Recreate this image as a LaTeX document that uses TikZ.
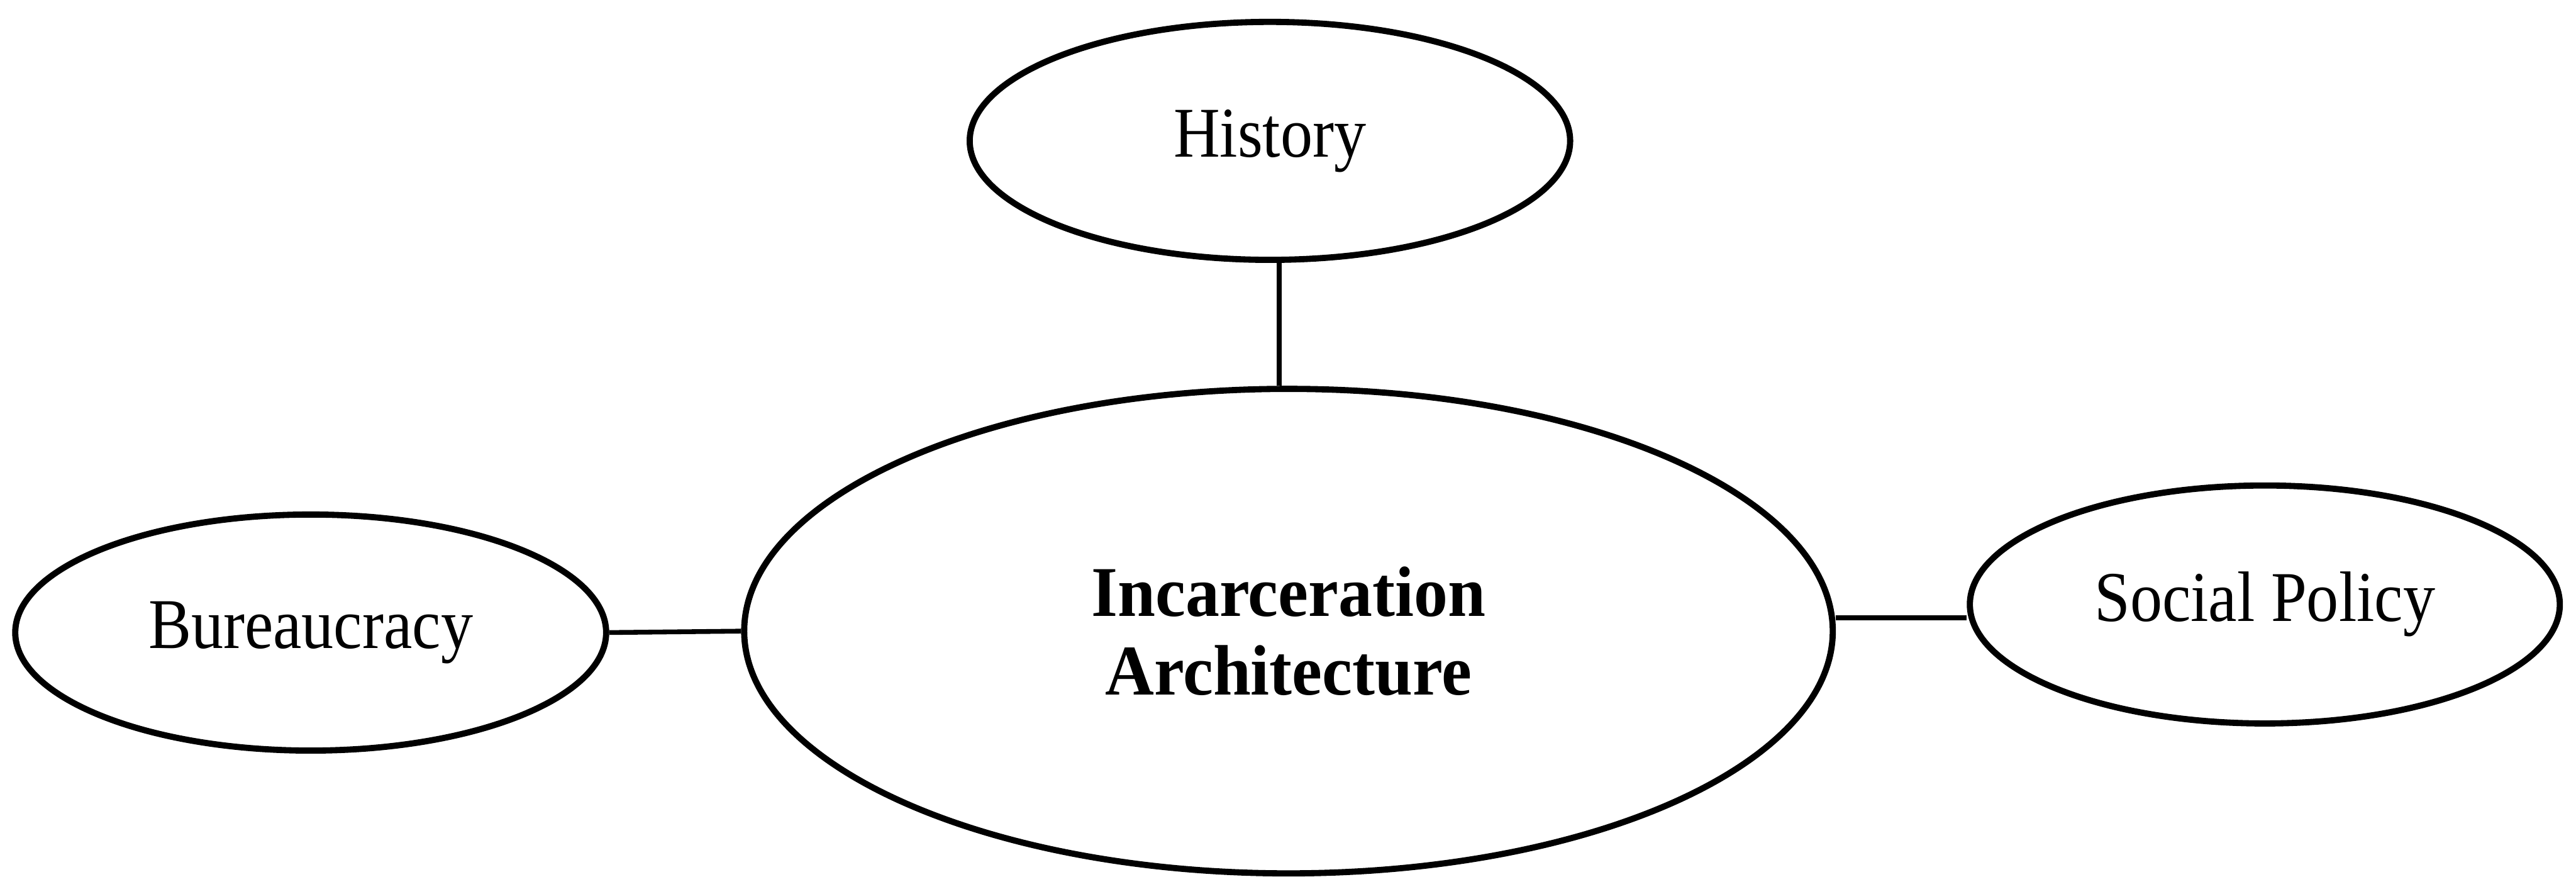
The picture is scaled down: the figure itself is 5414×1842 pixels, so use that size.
\documentclass[tikz,border=0pt]{standalone}
\usepackage{fontspec}
\setmainfont{Liberation Serif}
\newfontfamily\labelfont{Liberation Serif}[FakeStretch=0.9]
\newfontfamily\hubfont{Liberation Serif}[FakeStretch=0.95]
\usetikzlibrary{shapes.geometric}
\begin{document}
\begin{tikzpicture}[x=0.1pt,y=-0.1pt,
  bubble/.style={draw=black, ellipse, line width=1.3pt, inner sep=0pt, fill=white,
    font=\labelfont\fontsize{15}{18}\selectfont},
  hub/.style={bubble, font=\hubfont\fontsize{15}{16.6}\selectfont\bfseries, align=center},
  link/.style={draw=black, line width=1.0pt}]
  \useasboundingbox (0,0) rectangle (5414,1842);
  \fill[white] (0,0) rectangle (5414,1842);

  % central concept and the three surrounding themes
  \node[hub, minimum width=228.8pt, minimum height=101.8pt] (core) at (2708,1326)
    {Incarceration\\Architecture};
  \node[bubble, minimum width=126.2pt, minimum height=50pt] (hist) at (2669,296) {History};
  \node[bubble, minimum width=124.2pt, minimum height=49.6pt] (bur) at (653,1329) {Bureaucracy};
  \node[bubble, minimum width=124pt, minimum height=50pt] (soc) at (4760,1270) {Social Policy};

  % connectors
  \path (hist.south) -- (core.north) coordinate[pos=0.5] (hmid);
  \draw[link] (hmid |- hist.south) -- (hmid |- core.north);
  \draw[link] (bur.east) -- (core.west);
  \path (core.east) -- (soc.west) coordinate[pos=0.5] (smid);
  \draw[link] (smid -| core.east) -- (smid -| soc.west);
\end{tikzpicture}
\end{document}
